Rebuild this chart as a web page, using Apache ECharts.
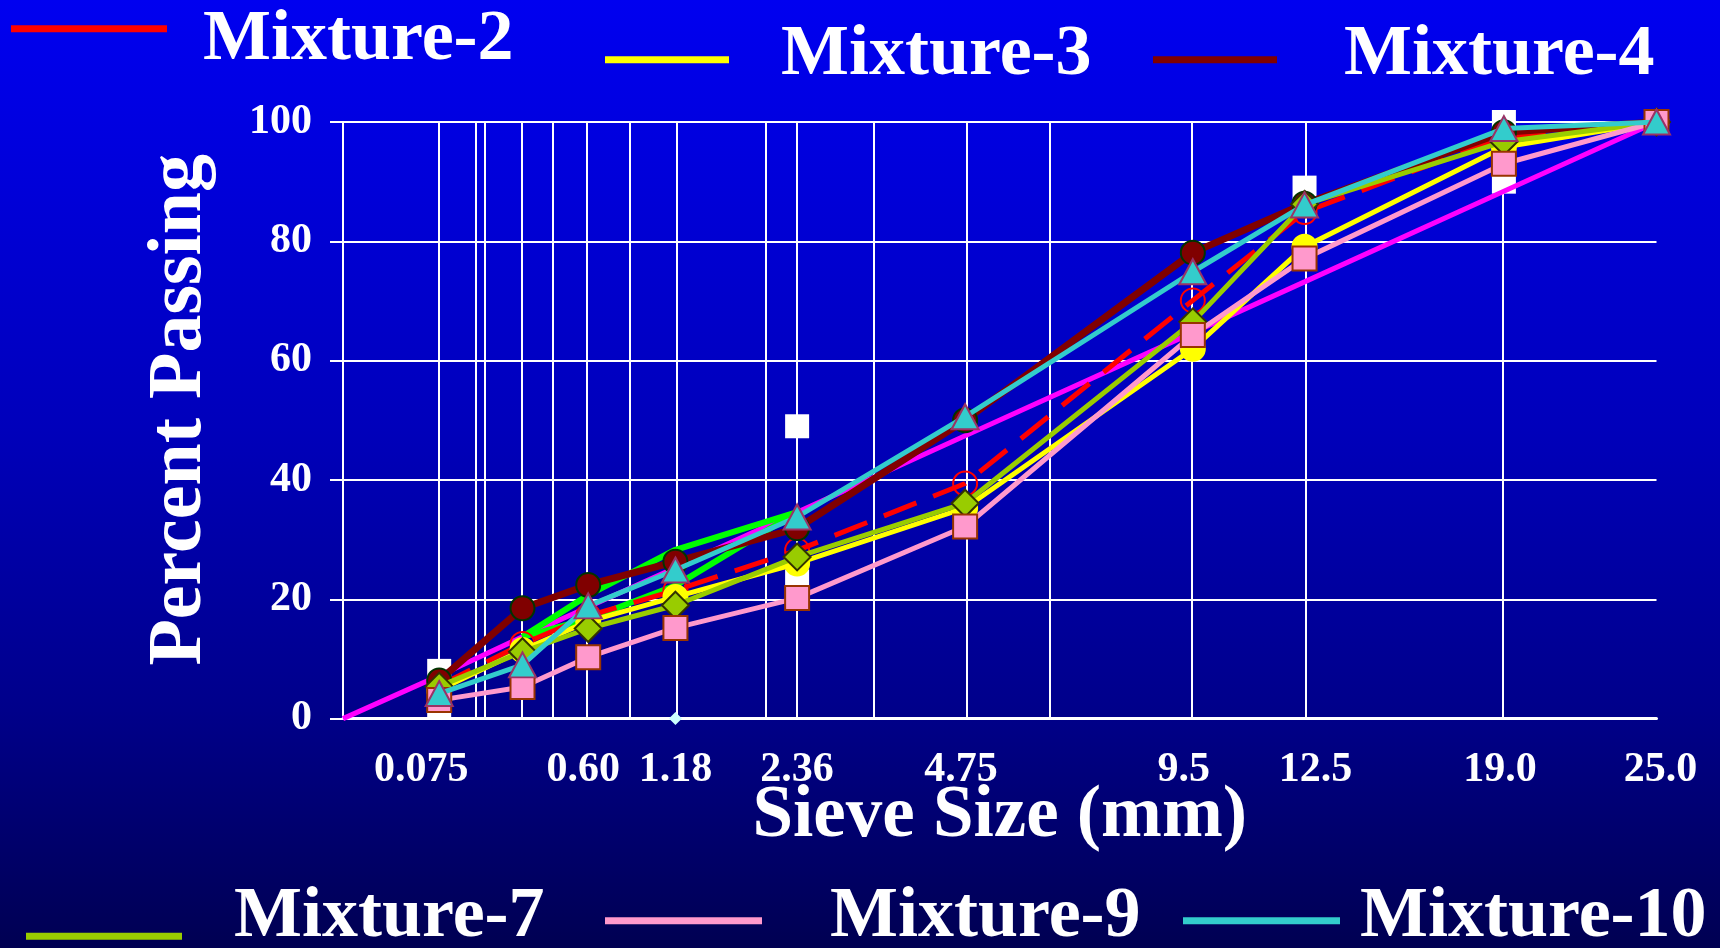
<!DOCTYPE html>
<html>
<head>
<meta charset="utf-8">
<script src="https://cdn.jsdelivr.net/npm/echarts@6/dist/echarts.min.js"></script>
<style>
html,body{margin:0;padding:0;width:1720px;height:948px;overflow:hidden;background:#000080;}
#chart{width:1720px;height:948px;}
</style>
</head>
<body>
<div id="chart"></div>
<script>
// ---------------- data ----------------
const sieveSizes = [0.075, 0.3, 0.6, 1.18, 2.36, 4.75, 9.5, 12.5, 19.0, 25.0];
const mixture2  = [5.5, 12.5, 17.2, 21.5, 28.2, 39.4, 70.1, 84.9, 97.5, 100];
const mixture3  = [4.8, 11.5, 16.3, 20.4, 26.0, 35.3, 62.0, 79.1, 95.8, 100];
const mixture4  = [6.4, 18.5, 22.4, 26.3, 31.9, 50.0, 78.1, 86.3, 98.3, 100];
const mixture7  = [5.4, 11.2, 15.1, 19.0, 27.1, 36.1, 66.5, 86.2, 96.7, 100];
const mixture9  = [3.1, 5.3, 10.3, 15.2, 20.2, 32.2, 64.3, 77.1, 93.0, 100];
const mixture10 = [4.2, 9.0, 18.9, 24.9, 33.8, 50.6, 74.9, 86.1, 98.9, 100];

const maxDensitySizes  = [0, 0.075, 0.3, 0.6, 1.18, 2.36, 4.75, 9.5, 12.5, 19.0, 25.0];
const maxDensityValues = [0, 7.2, 13.7, 18.7, 25.3, 34.6, 47.4, 64.7, 73.2, 88.4, 100];

const restrictedSizes = [0.3, 0.6, 1.18, 2.36];
const restrictedUpper = [13.7, 20.7, 28.3, 34.6];
const restrictedLower = [13.7, 16.7, 22.3, 34.6];

const controlSizes  = [0.075, 0.075, 2.36, 2.36, 12.5, 19.0, 19.0, 25.0];
const controlValues = [2, 8, 23, 49, 89, 90, 100, 100];

const markerSizes  = [1.18];
const markerValues = [0];

const gridSizes = [0.075, 0.15, 0.18, 0.3, 0.425, 0.6, 0.85, 1.18, 2.0, 2.36, 3.35, 4.75, 6.3, 9.5, 12.5, 19.0, 25.0];
const xLabelSizes = [0.075, 0.6, 1.18, 2.36, 4.75, 9.5, 12.5, 19.0, 25.0];
const xLabelTexts = ['0.075', '0.60', '1.18', '2.36', '4.75', '9.5', '12.5', '19.0', '25.0'];
const yTicks = [0, 20, 40, 60, 80, 100];

// ---------------- layout / style constants ----------------
const xLabelShift = [-18, -5, 0, 0, -4, -9, 11, -4, 4];   // px nudges of the label text
const FONT = 'Liberation Serif';

// ---------------- scale: 0.45 power gradation axis ----------------
const POWER = 0.45;
const tx = d => Math.pow(d, POWER);
const pairs = (xs, ys) => xs.map((x, i) => [tx(x), ys[i]]);

const chart = echarts.init(document.getElementById('chart'), null, {renderer: 'canvas'});

function mixSeries(name, values, z, lineColor, lineWidth, lineType, symbol, symbolSize, fill, border) {
  return {
    name, type: 'line', z, data: pairs(sieveSizes, values),
    symbol, symbolSize, showSymbol: true,
    lineStyle: {color: lineColor, width: lineWidth, type: lineType},
    itemStyle: {color: fill, borderColor: border, borderWidth: 2, opacity: 1},
    emphasis: {disabled: true}, animation: false
  };
}

// legend icon (bar) part
function legendIcon(name, color, left, top, w) {
  return {
    data: [{name, itemStyle: {color, borderWidth: 0}}],
    left, top, icon: 'rect', itemWidth: w, itemHeight: 7, padding: 0,
    selectedMode: false, formatter: () => '',
    textStyle: {fontSize: 1, lineHeight: 1}
  };
}
// legend text part
function legendText(name, left, top) {
  return {
    data: [{name, itemStyle: {color: 'rgba(0,0,0,0)', borderWidth: 0}}],
    left, top, icon: 'rect', itemWidth: 1, itemHeight: 1, padding: 0,
    selectedMode: false,
    textStyle: {color: '#ffffff', fontSize: 72, fontWeight: 'bold', fontFamily: FONT, lineHeight: 72}
  };
}

const xRich = {};
xLabelShift.forEach((s, i) => {
  xRich['s' + i] = {
    color: '#ffffff', fontSize: 42, fontWeight: 'bold', fontFamily: FONT,
    padding: [0, s < 0 ? -2 * s : 0, 0, s > 0 ? 2 * s : 0]
  };
});

const option = {
  backgroundColor: {
    type: 'linear', x: 0, y: 0, x2: 0, y2: 1,
    colorStops: [
      {offset: 0, color: '#0000f0'},
      {offset: 0.45, color: '#0000bb'},
      {offset: 0.75, color: '#00008a'},
      {offset: 1, color: '#000052'}
    ]
  },
  animation: false,
  grid: {left: 343, right: 63.5, top: 122, bottom: 229.4, containLabel: false},
  legend: [
    legendIcon('Mixture-2', '#ff0000', 11, 25.2, 156),
    legendIcon('Mixture-3', '#ffff00', 605, 56.2, 124),
    legendIcon('Mixture-4', '#800000', 1153, 56.2, 124),
    legendIcon('Mixture-7', '#99cc00', 26, 932.8, 156),
    legendIcon('Mixture-9', '#ff99cc', 605, 917.3, 157),
    legendIcon('Mixture-10', '#33cccc', 1183, 917.3, 157),
    legendText('Mixture-2', 197, 4.5),
    legendText('Mixture-3', 775, 19.8),
    legendText('Mixture-4', 1338, 19.8),
    legendText('Mixture-7', 228, 881.6),
    legendText('Mixture-9', 824, 881.6),
    legendText('Mixture-10', 1354, 881.6)
  ],
  xAxis: {
    type: 'value', min: 0, max: tx(25),
    name: 'Sieve Size (mm)', nameLocation: 'middle', nameGap: 62, nameMoveOverlap: false,
    nameTextStyle: {color: '#ffffff', fontSize: 73, fontWeight: 'bold', fontFamily: FONT, lineHeight: 73},
    axisLine: {show: true, lineStyle: {color: '#ffffff', width: 3}},
    axisTick: {show: false},
    splitLine: {show: false},
    axisLabel: {
      show: true, customValues: xLabelSizes.map(tx), margin: 31,
      color: '#ffffff', fontSize: 42, fontWeight: 'bold', fontFamily: FONT,
      rich: xRich,
      formatter: v => {
        const i = xLabelSizes.findIndex(s => Math.abs(tx(s) - v) < 1e-6);
        return i >= 0 ? '{s' + i + '|' + xLabelTexts[i] + '}' : '';
      }
    }
  },
  yAxis: {
    type: 'value', min: 0, max: 100, interval: 20,
    name: 'Percent Passing', nameLocation: 'middle', nameGap: 125, nameRotate: 90,
    nameTextStyle: {color: '#ffffff', fontSize: 76, fontWeight: 'bold', fontFamily: FONT, lineHeight: 76, padding: [0, 0, 0, 21]},
    axisLine: {show: true, lineStyle: {color: '#ffffff', width: 2}},
    axisTick: {show: true, inside: false, length: 13, lineStyle: {color: '#ffffff', width: 2}},
    splitLine: {show: true, lineStyle: {color: '#ffffff', width: 2}},
    axisLabel: {color: '#ffffff', fontSize: 42, fontWeight: 'bold', fontFamily: FONT, margin: 31,
                formatter: v => (yTicks.indexOf(v) >= 0 ? String(v) : '')}
  },
  series: [
    {
      name: 'Control Points', type: 'scatter', z: 2,
      data: pairs(controlSizes, controlValues),
      symbol: 'rect', symbolSize: 24,
      itemStyle: {color: '#ffffff', opacity: 1},
      emphasis: {disabled: true}, animation: false,
      markLine: {
        z: 1, silent: true, animation: false, symbol: ['none', 'none'],
        label: {show: false},
        lineStyle: {color: '#ffffff', width: 2, type: 'solid', opacity: 1},
        emphasis: {disabled: true},
        data: gridSizes.map(s => ({xAxis: tx(s)}))
      }
    },
    {
      name: 'Maximum Density', type: 'line', z: 3,
      data: pairs(maxDensitySizes, maxDensityValues),
      symbol: 'none', lineStyle: {color: '#ff00ff', width: 5},
      emphasis: {disabled: true}, animation: false
    },
    {
      name: 'Restricted Upper', type: 'line', z: 3,
      data: pairs(restrictedSizes, restrictedUpper),
      symbol: 'none', lineStyle: {color: '#00ff00', width: 6},
      emphasis: {disabled: true}, animation: false
    },
    {
      name: 'Restricted Lower', type: 'line', z: 3,
      data: pairs(restrictedSizes, restrictedLower),
      symbol: 'none', lineStyle: {color: '#00ff00', width: 6},
      emphasis: {disabled: true}, animation: false
    },
    {
      name: 'Marker', type: 'scatter', z: 3,
      data: pairs(markerSizes, markerValues),
      symbol: 'diamond', symbolSize: 13,
      itemStyle: {color: '#ccffff', opacity: 1}, clip: false,
      emphasis: {disabled: true}, animation: false
    },
    mixSeries('Mixture-2', mixture2, 4, '#ff0000', 5, [35, 18], 'circle', 24, 'rgba(0,0,0,0)', '#ff0000'),
    mixSeries('Mixture-3', mixture3, 5, '#ffff00', 5, 'solid', 'circle', 24, '#ffff00', '#ffff00'),
    mixSeries('Mixture-4', mixture4, 6, '#800000', 7, 'solid', 'circle', 24, '#800000', '#003300'),
    mixSeries('Mixture-7', mixture7, 7, '#99cc00', 5, 'solid', 'diamond', 27, '#99cc00', '#333300'),
    mixSeries('Mixture-9', mixture9, 8, '#ff99cc', 5, 'solid', 'rect', 24, '#ff99cc', '#993300'),
    mixSeries('Mixture-10', mixture10, 9, '#33cccc', 5, 'solid', 'triangle', [27, 25], '#33cccc', '#993366')
  ]
};
chart.setOption(option);
</script>
</body>
</html>
